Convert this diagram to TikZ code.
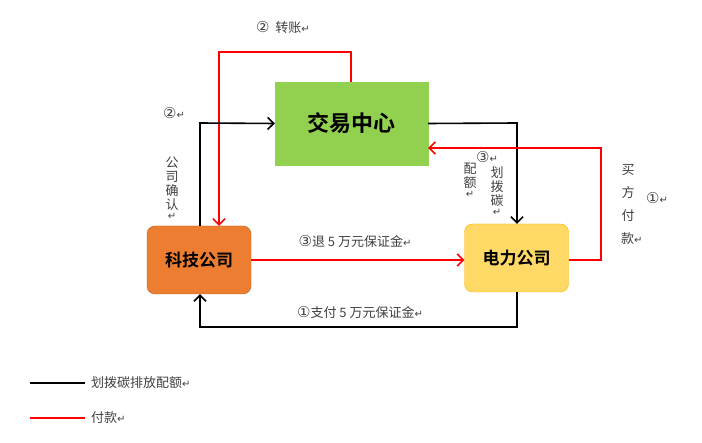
\documentclass[tikz,border=0pt]{standalone}
\usepackage{fontspec}
\setmainfont{Noto Sans CJK SC}[BoldFont={Noto Sans CJK SC Bold}]
\newfontfamily\dv{DejaVu Sans}
\usetikzlibrary{arrows.meta}
\definecolor{tgreen}{HTML}{92D050}
\definecolor{korange}{HTML}{ED7D31}
\definecolor{dyellow}{HTML}{FFD966}
\definecolor{lbl}{HTML}{404040}
\newcommand{\ret}{{\dv\fontsize{10}{10}\selectfont ↵}}
\newcommand{\cn}[1]{{\dv\fontsize{15}{15}\selectfont #1}}
\begin{document}
\begin{tikzpicture}[x=1pt,y=-1pt,
  box/.style={draw,minimum width=104pt,minimum height=68pt,font=\bfseries\fontsize{17}{20}\selectfont},
  blk/.style={draw=black,line width=1.6pt,-{Straight Barb[length=6pt,width=12pt]}},
  redl/.style={draw=red,line width=1.6pt,-{Straight Barb[length=6pt,width=12pt]}},
  lab/.style={text=lbl,font=\fontsize{13}{15}\selectfont,inner sep=1pt},
  vlab/.style={text=lbl,font=\fontsize{13}{14}\selectfont,inner sep=1pt,align=center,text width=14pt}]
\useasboundingbox[fill=white] (0,0) rectangle (702,443);
\node[box,fill=tgreen,draw=tgreen,minimum width=153pt,minimum height=83pt,font=\bfseries\fontsize{22}{26}\selectfont] (tc) at (351.5,123.5) {交易中心};
\node[box,fill=korange,draw=korange!80!black,rounded corners=8pt] (kj) at (199,260) {科技公司};
\node[box,fill=dyellow,draw=orange!60!yellow,rounded corners=8pt] (dl) at (516.5,258) {电力公司};
\coordinate (a1) at (351,52); \coordinate (a2) at (219,52);
\draw[redl] (tc.north -| a1) -- (a1) -- (a2) -- (a2 |- kj.north);
\coordinate (b1) at (200,123);
\draw[blk] (b1 |- kj.north) -- (b1) -- (tc.west);
\coordinate (c1) at (517,123);
\draw[blk] (tc.east) -- (c1) -- (c1 |- dl.north);
\coordinate (d1) at (601,260); \coordinate (d2) at (601,148);
\draw[redl] (dl.east |- d1) -- (d1) -- (d2) -- (d2 -| tc.east);
\draw[redl] (kj.east |- 0,260) -- (dl.west |- 0,260);
\coordinate (e1) at (517,327); \coordinate (e2) at (200,327);
\draw[blk] (e1 |- dl.south) -- (e1) -- (e2) -- (e2 |- kj.south);
\node[lab] (l1) at (355,241) {\cn{③}退 5 万元保证金\ret};
\node[lab] (l2) at (360,312) {\cn{①}支付 5 万元保证金\ret};
\node[lab] (l3) at (283,28) {\cn{②}\ \ 转账\ret};
\node[lab] (l4) at (174,113) {\cn{②}\ret};
\node[vlab] (l5) at (172,188) {公\\司\\确\\认\\[-4pt]\ret};
\node[lab] (l6) at (487,157) {\cn{③}\ret};
\node[vlab] (l7) at (470,180) {配\\额\\[-4pt]\ret};
\node[vlab] (l8) at (497,191) {划\\拨\\碳\\[-4pt]\ret};
\node[vlab] (l9) at (628,204) {买\\[9pt]方\\[9pt]付\\[9pt]款\ret};
\node[lab] (l10) at (657,198) {\cn{①}\ret};
\coordinate (g1) at (30,383); \coordinate (g2) at (85,383);
\draw[black,line width=1.6pt] (g1) -- (g2);
\node[lab,anchor=west] (g3) at (90,383) {划拨碳排放配额\ret};
\coordinate (h1) at (30,418); \coordinate (h2) at (85,418);
\draw[red,line width=1.6pt] (h1) -- (h2);
\node[lab,anchor=west] (h3) at (90,418) {付款\ret};
\end{tikzpicture}
\end{document}
